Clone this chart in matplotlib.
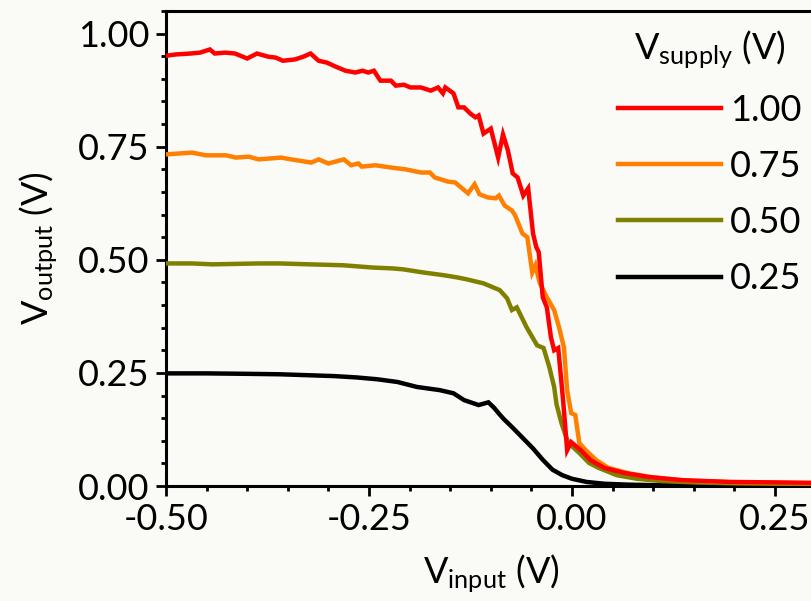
import matplotlib.pyplot as plt
from matplotlib.ticker import MultipleLocator

plt.rcParams['font.family'] = ['Lato', 'DejaVu Sans']

# input voltage sweep (V) and measured output (V) for each supply voltage
x_100 = [-0.500, -0.488, -0.470, -0.458, -0.446, -0.440, -0.427, -0.415, -0.400, -0.388,
         -0.374, -0.365, -0.356, -0.341, -0.331, -0.322, -0.312, -0.302, -0.291, -0.279,
         -0.267, -0.258, -0.251, -0.244, -0.236, -0.223, -0.217, -0.207, -0.199, -0.193,
         -0.186, -0.174, -0.165, -0.159, -0.156, -0.146, -0.140, -0.133, -0.125, -0.119,
         -0.115, -0.109, -0.100, -0.091, -0.085, -0.079, -0.073, -0.067, -0.060, -0.054,
         -0.048, -0.044, -0.041, -0.036, -0.031, -0.026, -0.022, -0.017, -0.011, -0.006,
         -0.001, 0.011, 0.023, 0.040, 0.064, 0.094, 0.135, 0.196, 0.250, 0.300]
v_100 = [0.951, 0.954, 0.956, 0.958, 0.965, 0.956, 0.958, 0.956, 0.945, 0.956,
         0.949, 0.947, 0.940, 0.943, 0.949, 0.956, 0.940, 0.936, 0.927, 0.918,
         0.914, 0.918, 0.914, 0.918, 0.896, 0.896, 0.885, 0.887, 0.881, 0.881,
         0.881, 0.874, 0.881, 0.868, 0.881, 0.868, 0.837, 0.837, 0.823, 0.815,
         0.819, 0.779, 0.790, 0.726, 0.777, 0.742, 0.691, 0.682, 0.642, 0.658,
         0.558, 0.528, 0.517, 0.417, 0.395, 0.329, 0.300, 0.305, 0.190, 0.079,
         0.097, 0.079, 0.057, 0.040, 0.029, 0.020, 0.013, 0.009, 0.008, 0.007]

x_075 = [-0.500, -0.468, -0.451, -0.426, -0.414, -0.398, -0.386, -0.358, -0.346, -0.321,
         -0.312, -0.300, -0.281, -0.272, -0.263, -0.259, -0.242, -0.223, -0.205, -0.186,
         -0.175, -0.169, -0.153, -0.144, -0.128, -0.120, -0.114, -0.104, -0.094, -0.090,
         -0.083, -0.074, -0.070, -0.061, -0.055, -0.049, -0.045, -0.040, -0.031, -0.022,
         -0.016, -0.010, -0.006, -0.001, 0.004, 0.009, 0.017, 0.030, 0.045, 0.070,
         0.100, 0.140, 0.200, 0.250, 0.300]
v_075 = [0.733, 0.737, 0.731, 0.731, 0.726, 0.728, 0.722, 0.726, 0.722, 0.715,
         0.722, 0.713, 0.722, 0.709, 0.713, 0.706, 0.709, 0.704, 0.700, 0.693,
         0.693, 0.682, 0.673, 0.671, 0.647, 0.667, 0.645, 0.638, 0.636, 0.642,
         0.620, 0.609, 0.598, 0.558, 0.550, 0.472, 0.488, 0.450, 0.417, 0.389,
         0.351, 0.307, 0.212, 0.161, 0.157, 0.095, 0.079, 0.057, 0.040, 0.028,
         0.019, 0.012, 0.008, 0.007, 0.006]

x_050 = [-0.500, -0.468, -0.443, -0.385, -0.360, -0.323, -0.282, -0.246, -0.221, -0.208,
         -0.183, -0.158, -0.141, -0.130, -0.109, -0.089, -0.080, -0.074, -0.068, -0.056,
         -0.043, -0.035, -0.028, -0.022, -0.019, -0.013, -0.006, 0.000, 0.009, 0.021,
         0.033, 0.055, 0.080, 0.110, 0.150, 0.200, 0.250, 0.300]
v_050 = [0.492, 0.492, 0.490, 0.492, 0.492, 0.490, 0.488, 0.483, 0.481, 0.479,
         0.472, 0.466, 0.461, 0.457, 0.448, 0.433, 0.415, 0.389, 0.395, 0.351,
         0.311, 0.305, 0.263, 0.219, 0.180, 0.139, 0.102, 0.088, 0.073, 0.051,
         0.040, 0.024, 0.016, 0.011, 0.008, 0.006, 0.005, 0.004]

x_025 = [-0.500, -0.450, -0.400, -0.360, -0.326, -0.293, -0.265, -0.240, -0.215, -0.191,
         -0.179, -0.163, -0.146, -0.133, -0.115, -0.103, -0.096, -0.090, -0.084, -0.072,
         -0.060, -0.048, -0.036, -0.024, -0.012, 0.000, 0.018, 0.040, 0.070, 0.100,
         0.150, 0.200, 0.250, 0.300]
v_025 = [0.249, 0.249, 0.248, 0.247, 0.245, 0.243, 0.240, 0.236, 0.230, 0.219,
         0.216, 0.212, 0.205, 0.190, 0.179, 0.185, 0.173, 0.160, 0.148, 0.127,
         0.105, 0.083, 0.058, 0.036, 0.024, 0.016, 0.009, 0.005, 0.003, 0.002,
         0.002, 0.001, 0.001, 0.001]

supply_labels = ['1.00', '0.75', '0.50', '0.25']
colors = ['#ff0000', '#ff8000', '#808000', '#000000']

bg = '#fafaf7'
fig = plt.figure(figsize=(8.11, 6.01), dpi=100, facecolor=bg)
ax = fig.add_axes([0.2047, 0.1913, 0.801, 0.7904], facecolor=bg)

curves = [(x_100, v_100), (x_075, v_075), (x_050, v_050), (x_025, v_025)]
handles = []
for i, ((xs, ys), lab, c) in enumerate(zip(curves, supply_labels, colors)):
    h, = ax.plot(xs, ys, color=c, lw=3.2, label=lab, zorder=10 - i,
                 solid_joinstyle='miter')
    handles.append(h)

ax.set_xlim(-0.5, 0.3)
ax.set_ylim(0, 1.05)
ax.xaxis.set_major_locator(MultipleLocator(0.25))
ax.xaxis.set_minor_locator(MultipleLocator(0.05))
ax.yaxis.set_major_locator(MultipleLocator(0.25))
ax.yaxis.set_minor_locator(MultipleLocator(0.05))
ax.xaxis.set_major_formatter(lambda v, p: f'{v:.2f}'.replace('-0.00', '0.00'))
ax.yaxis.set_major_formatter(lambda v, p: f'{v:.2f}')

for s in ax.spines.values():
    s.set_linewidth(2.2)
ax.spines['right'].set_visible(False)
ax.tick_params(which='both', direction='out', width=2, labelsize=26, top=False, right=False)
ax.tick_params(which='major', length=7, pad=5)
ax.tick_params(which='minor', length=3.5)

ax.set_xlabel(r'$\mathregular{V_{input}}$ (V)', fontsize=26, labelpad=12)
ax.set_ylabel(r'$\mathregular{V_{output}}$ (V)', fontsize=26, labelpad=13)

leg = fig.legend(handles=handles, labels=supply_labels, loc='upper right',
                 bbox_to_anchor=(0.988, 0.953), frameon=False, fontsize=26,
                 title=r'$\mathregular{V_{supply}}$ (V)', title_fontsize=26,
                 handlelength=2.85, handletextpad=0.25, labelspacing=0.64,
                 borderpad=0, borderaxespad=0)

fig.savefig('out.png', dpi=100, facecolor=bg)
